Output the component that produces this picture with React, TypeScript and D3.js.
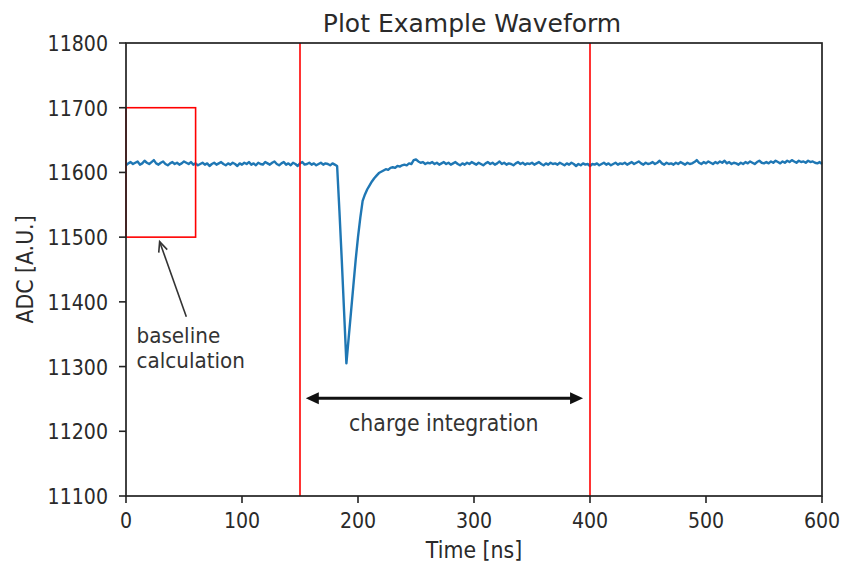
import React from "react";
import * as d3 from "d3";

// ---- data (ADC samples every 2 ns, 0..600 ns) ----
const SAMPLE_NS = 2;
const baselinePre = [
  11611, 11614, 11616, 11613, 11615, 11617, 11612, 11614, 11618, 11615, 11613,
  11616, 11619, 11614, 11612, 11615, 11617, 11613, 11611, 11614, 11616,
  11613, 11615, 11612, 11614, 11617, 11615, 11613, 11616, 11612, 11614,
  11611, 11613, 11615, 11612, 11614, 11610, 11613, 11615, 11612, 11614,
  11616, 11613, 11611, 11614, 11612, 11615, 11613, 11610, 11614, 11612,
  11615, 11613, 11616, 11612, 11614, 11611, 11615, 11613, 11612, 11616,
  11614, 11612, 11615, 11617, 11613, 11611, 11614, 11616, 11612, 11614,
  11611, 11615, 11613, 11610, 11614, 11616, 11612, 11613, 11615, 11612,
  11614, 11611, 11613, 11615, 11612, 11614, 11613, 11611, 11614, 11612,
];
const pulse = [11610, 11540, 11465, 11385, 11305, 11345, 11385, 11425, 11465, 11500, 11530, 11556];
const recovery = [
  11566, 11574, 11580, 11586, 11591, 11595, 11599, 11601,
  11603, 11605, 11604, 11607, 11608, 11607, 11610, 11609, 11611, 11612, 11611, 11614, 11613, 11619, 11620,
];
const baselinePost = [
  11617, 11615, 11616, 11613, 11615, 11614, 11616, 11613, 11615, 11612,
  11614, 11616, 11613, 11615, 11612, 11614, 11616, 11613, 11611, 11614,
  11612, 11615, 11613, 11616, 11614, 11612, 11615, 11613, 11611, 11614,
  11616, 11613, 11615, 11612, 11614, 11617, 11613, 11615, 11612, 11614,
  11613, 11611, 11614, 11616, 11613, 11615, 11612, 11614, 11613, 11615,
  11612, 11614, 11616, 11613, 11611, 11614, 11612, 11615, 11613, 11614,
  11612, 11615, 11613, 11611, 11614, 11612, 11615, 11613, 11610, 11613,
  11611, 11614, 11612, 11613, 11610, 11613, 11612, 11614, 11611, 11613,
  11615, 11612, 11614, 11611, 11613, 11615, 11612, 11614, 11613, 11615,
  11612, 11614, 11616, 11613, 11615, 11617, 11614, 11612, 11615, 11613,
  11614, 11616, 11613, 11615, 11618, 11614, 11612, 11615, 11613, 11614,
  11612, 11615, 11613, 11616, 11614, 11612, 11615, 11613, 11614, 11616,
  11619, 11615, 11613, 11616, 11614, 11617, 11615, 11613, 11616, 11614,
  11617, 11615, 11618, 11614, 11616, 11613, 11615, 11614, 11612, 11615,
  11613, 11616, 11614, 11617, 11615, 11613, 11616, 11618, 11615, 11614,
  11616, 11614, 11617, 11615, 11618, 11616, 11614, 11617, 11615, 11618,
  11616, 11619, 11617, 11615, 11618, 11616, 11617, 11615, 11618, 11616,
  11617, 11615, 11614, 11616, 11613,
];
const adc = [...baselinePre, ...pulse, ...recovery, ...baselinePost];

const xTicks = [0, 100, 200, 300, 400, 500, 600];
const yTicks = [11100, 11200, 11300, 11400, 11500, 11600, 11700, 11800];
const xDomain = [0, 600];
const yDomain = [11100, 11800];

const baselineWindow = [0, 60];
const baselineBand = [11500, 11700];
const integrationWindow = [150, 400];
const integrationArrow = [155, 394];
const integrationArrowY = 11251;
const integrationLabel = { x: 274, y: 11201, text: "charge integration" };
const baselineArrowFrom = { x: 52, y: 11377 };
const baselineArrowTo = { x: 29, y: 11493 };
const baselineLabel = { x: 9, y: 11337, lines: ["baseline", "calculation"] };

const W = 842;
const H = 569;
const M = { left: 126, right: 20, top: 43, bottom: 73 };
const FONT = "'DejaVu Sans', sans-serif";
const TXT = "#2a2a2a";

function T({
  x,
  y,
  size,
  sy = 1.15,
  anchor = "start",
  rotate = 0,
  fill = TXT,
  children,
}: {
  x: number;
  y: number;
  size: number;
  sy?: number;
  anchor?: string;
  rotate?: number;
  fill?: string;
  children: React.ReactNode;
}) {
  return (
    <text
      transform={`translate(${x},${y}) rotate(${rotate}) scale(1,${sy})`}
      textAnchor={anchor}
      fontSize={size}
      fill={fill}
    >
      {children}
    </text>
  );
}

export default function App() {
  const x = d3.scaleLinear().domain(xDomain).range([M.left, W - M.right]);
  const y = d3.scaleLinear().domain(yDomain).range([H - M.bottom, M.top]);
  const pts: [number, number][] = adc.map((v, i) => [i * SAMPLE_NS, v]);
  const line = d3
    .line<[number, number]>()
    .x((d) => x(d[0]))
    .y((d) => y(d[1]));

  const x0 = x(xDomain[0]);
  const x1 = x(xDomain[1]);
  const y0 = y(yDomain[0]);
  const y1 = y(yDomain[1]);

  const bx1 = x(baselineArrowFrom.x), by1 = y(baselineArrowFrom.y);
  const bx2 = x(baselineArrowTo.x), by2 = y(baselineArrowTo.y);
  const ang = Math.atan2(by2 - by1, bx2 - bx1);
  const head = (tx: number, ty: number, a: number, l: number, w: number) => {
    const bxp = tx - l * Math.cos(a), byp = ty - l * Math.sin(a);
    return `M${bxp + w * Math.sin(a)},${byp - w * Math.cos(a)} L${tx},${ty} L${bxp - w * Math.sin(a)},${byp + w * Math.cos(a)}`;
  };

  const ax1 = x(integrationArrow[0]);
  const ax2 = x(integrationArrow[1]);
  const ay = y(integrationArrowY);

  return (
    <svg
      width={W}
      height={H}
      style={{ position: "absolute", left: 0, top: 0, display: "block", background: "#fff" }}
      fontFamily={FONT}
    >
      <rect x={0} y={0} width={W} height={H} fill="#fff" />
      <path d={line(pts) || ""} fill="none" stroke="#1f77b4" strokeWidth={2.4} strokeLinejoin="round" />

      <rect
        x={x(baselineWindow[0])}
        y={y(baselineBand[1])}
        width={x(baselineWindow[1]) - x(baselineWindow[0])}
        height={y(baselineBand[0]) - y(baselineBand[1])}
        fill="none"
        stroke="#ff0000"
        strokeWidth={1.6}
      />
      {integrationWindow.map((t) => (
        <line key={t} x1={x(t)} x2={x(t)} y1={y0} y2={y1} stroke="#ff0000" strokeWidth={1.6} />
      ))}

      <rect x={x0} y={y1} width={x1 - x0} height={y0 - y1} fill="none" stroke="#222" strokeWidth={1.7} />

      {xTicks.map((t) => (
        <g key={t}>
          <line x1={x(t)} x2={x(t)} y1={y0} y2={y0 + 7} stroke="#222" strokeWidth={1.6} />
          <T x={x(t)} y={y0 + 32} size={19} anchor="middle">
            {t}
          </T>
        </g>
      ))}
      {yTicks.map((t) => (
        <g key={t}>
          <line x1={x0 - 7} x2={x0} y1={y(t)} y2={y(t)} stroke="#222" strokeWidth={1.6} />
          <T x={x0 - 18} y={y(t) + 8} size={19} anchor="end">
            {t}
          </T>
        </g>
      ))}

      <T x={(x0 + x1) / 2} y={558} size={20.5} sy={1.1} anchor="middle">
        Time [ns]
      </T>
      <T x={33} y={(y0 + y1) / 2} size={20.5} sy={1.1} anchor="middle" rotate={-90}>
        ADC [A.U.]
      </T>
      <T x={472} y={32} size={25} sy={1.0} anchor="middle">
        Plot Example Waveform
      </T>

      <line x1={bx1} y1={by1} x2={bx2} y2={by2} stroke="#333" strokeWidth={1.6} />
      <path d={head(bx2, by2, ang, 10, 4.5)} fill="none" stroke="#333" strokeWidth={1.6} />
      {baselineLabel.lines.map((l, i) => (
        <T key={l} x={x(baselineLabel.x)} y={y(baselineLabel.y) + i * 25} size={20} sy={1.1} fill="#333">
          {l}
        </T>
      ))}

      <line x1={ax1 + 6} x2={ax2 - 6} y1={ay} y2={ay} stroke="#111" strokeWidth={3} />
      <path d={`M${ax1},${ay} L${ax1 + 13},${ay - 6} L${ax1 + 13},${ay + 6} Z`} fill="#111" />
      <path d={`M${ax2},${ay} L${ax2 - 13},${ay - 6} L${ax2 - 13},${ay + 6} Z`} fill="#111" />
      <T x={x(integrationLabel.x)} y={y(integrationLabel.y)} size={20.5} sy={1.1} anchor="middle" fill="#333">
        {integrationLabel.text}
      </T>
    </svg>
  );
}
